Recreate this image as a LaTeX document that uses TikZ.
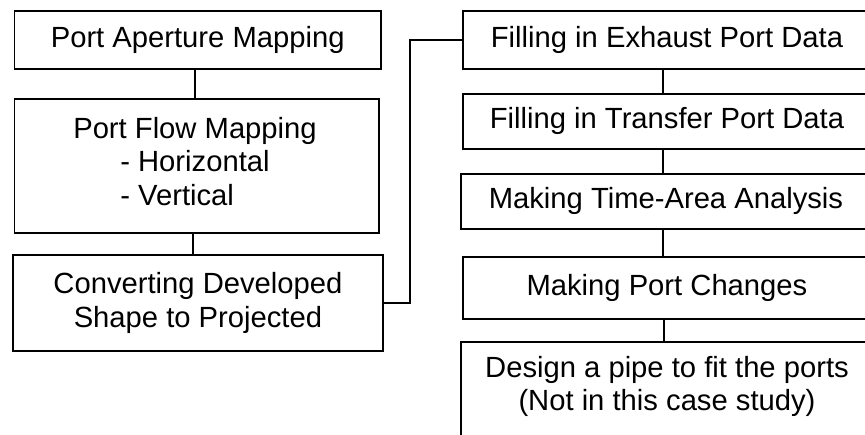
\documentclass[tikz,border=0pt]{standalone}
\usepackage{fontspec}
\setmainfont{Liberation Sans}
\begin{document}
\begin{tikzpicture}[x=1pt,y=-1pt,
  txt/.style={font=\fontsize{29.2}{33.5}\selectfont, align=center},
  box/.style={txt, draw, line width=1.9pt, rectangle, anchor=north west, inner sep=0pt},
  link/.style={line width=1.9pt}]
\useasboundingbox (0,0) rectangle (865,435);
\clip (0,0) rectangle (865,435);
% left column
\node[box, minimum width=366.5pt, minimum height=58pt] (a) at (13.5,10) {\raisebox{-3pt}{Port Aperture Mapping}};
\node[box, minimum width=364.5pt, minimum height=134pt] (b) at (13.5,98) {};
\node[txt, anchor=north, inner sep=0pt] (bt) at (195,117)
  {Port Flow Mapping\\\setbox0\hbox{- Horizontal}\hbox to \wd0{- Horizontal\hfil}\\\setbox0\hbox{- Horizontal}\hbox to \wd0{- Vertical\hfil}};
\node[box, minimum width=370pt, minimum height=96pt] (c) at (12,254) {Converting Developed\\Shape to Projected};
% right column
\node[box, minimum width=408pt, minimum height=58pt] (r1) at (462,10) {\raisebox{-3pt}{Filling in Exhaust Port Data}};
\node[box, minimum width=408pt, minimum height=55pt] (r2) at (462,93) {Filling in Transfer Port Data};
\node[box, minimum width=410pt, minimum height=55pt] (r3) at (460,173) {Making Time-Area Analysis};
\node[box, minimum width=408pt, minimum height=62pt] (r4) at (462,256) {Making Port Changes};
\node[box, minimum width=410pt, minimum height=120pt] (r5) at (460,341) {};
\node[txt, anchor=north, inner sep=0pt] (r5t) at (667,356)
  {Design a pipe to fit the ports\\(Not in this case study)};
% connectors
\draw[link] ([xshift=-3pt]a.south) -- ([xshift=-3pt]a.south |- b.north);
\draw[link] ([xshift=-4pt]b.south) -- ([xshift=-4pt]b.south |- c.north);
\draw[link] (c.east) -- ++(26,0) |- (r1.west);
\draw[link] ([xshift=-4pt]r1.south) -- ([xshift=-4pt]r1.south |- r2.north);
\draw[link] ([xshift=-4pt]r2.south) -- ([xshift=-4pt]r2.south |- r3.north);
\draw[link] ([xshift=-3pt]r3.south) -- ([xshift=-3pt]r3.south |- r4.north);
\draw[link] ([xshift=-3pt]r4.south) -- ([xshift=-3pt]r4.south |- r5.north);
\end{tikzpicture}
\end{document}
